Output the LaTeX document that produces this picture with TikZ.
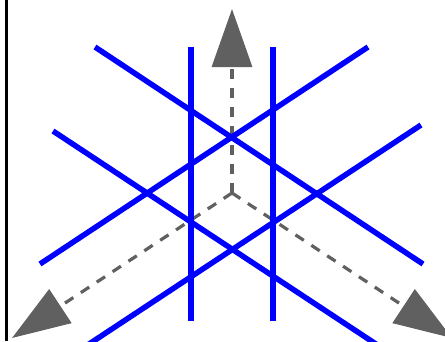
\documentclass[tikz,border=0pt]{standalone}
\usetikzlibrary{arrows.meta}
\definecolor{cAxis}{HTML}{606060}
\definecolor{cLine}{HTML}{0000FF}
\tikzset{
  axisln/.style ={draw=cAxis,line width=3.2pt,dash pattern=on 10pt off 9pt,
                  -{Triangle[length=58pt,width=40pt]}},
  latln/.style  ={draw=cLine,line width=5.5pt},
  edgeln/.style ={draw=black,line width=2.5pt},
}
\begin{document}
\begin{tikzpicture}[x=1pt,y=-1pt]
\useasboundingbox (0,0) rectangle (445,341);
\clip (0,0) rectangle (445,341);

% origin and the three axis ends
\coordinate (O)    at (232,193);
\coordinate (ax1)  at (232,9);
\coordinate (ax2)  at (12,338);
\coordinate (ax3)  at (452,338);
\foreach \a in {ax1,ax2,ax3}{\draw[axisln] (O) -- (\a);}

% three families of parallel lines
\coordinate (v1a) at (191,47);   \coordinate (v1b) at (191,321);
\coordinate (v2a) at (273,47);   \coordinate (v2b) at (273,321);
\coordinate (d1a) at (95,47);    \coordinate (d1b) at (423,264);
\coordinate (d2a) at (53,131);   \coordinate (d2b) at (385,350);
\coordinate (e1a) at (368,47);   \coordinate (e1b) at (40,264);
\coordinate (e2a) at (421,125);  \coordinate (e2b) at (80,350);
\foreach \n in {v1,v2,d1,d2,e1,e2}{\draw[latln] (\n a) -- (\n b);}

% left rule
\coordinate (ltop) at (6.5,0);
\coordinate (lbot) at (6.5,341);
\draw[edgeln] (ltop) -- (lbot);
\end{tikzpicture}
\end{document}
